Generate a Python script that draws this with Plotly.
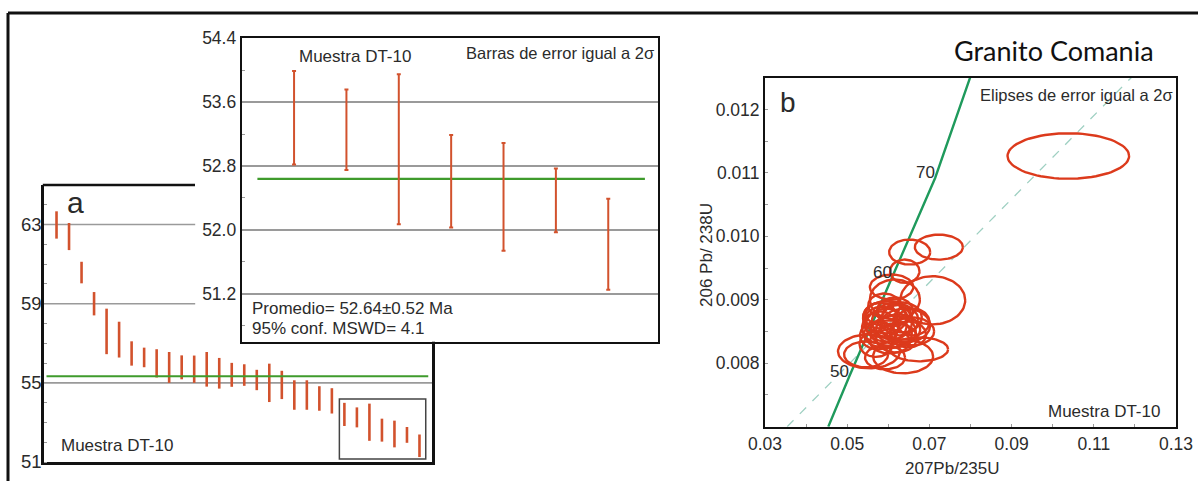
import numpy as np
import plotly.graph_objects as go

# ---------------- data ----------------
# Panel a: individual 206Pb/238U ages (Ma), limits of the 2-sigma bars, ordered from oldest to youngest
age_hi = [63.67, 63.08, 61.12, 59.59, 58.75, 58.09, 57.10, 56.78, 56.70, 56.56,
          56.39, 56.38, 56.56, 56.26, 56.01, 55.94, 55.66, 55.97, 55.61, 55.13,
          55.13, 54.83, 54.73, 53.99, 53.76, 53.95, 53.19, 53.09, 52.77, 52.39]
age_lo = [62.29, 61.71, 60.03, 58.41, 56.45, 56.28, 55.87, 55.79, 55.27, 55.00,
          55.18, 55.00, 54.81, 54.71, 54.80, 54.85, 54.63, 54.03, 54.18, 53.64,
          53.64, 53.59, 53.45, 52.82, 52.75, 52.07, 52.03, 51.74, 51.97, 51.25]
mean_all = 55.34          # green line, panel a
mean_young = 52.64        # weighted mean of the young group (inset)
mean_young_err = 0.52
mswd_young = 4.1
n_young = 7               # last 7 analyses shown in the inset

a_ticks = [51, 55, 59, 63]
a_grid = [63, 59]
inset_ticks = [51.2, 52.0, 52.8, 53.6, 54.4]
inset_minor = [50.8, 51.6, 52.4, 53.2, 54.0]

# Panel b: concordia diagram, 2-sigma error ellipses (centre and semi-axes)
ell_x = [0.0723, 0.0652, 0.0640, 0.0608, 0.0708, 0.0616,
         0.0592, 0.0609, 0.0624, 0.0580, 0.0599, 0.0633, 0.0616, 0.0575, 0.0648,
         0.0604, 0.0590, 0.0641, 0.0658, 0.0585, 0.0620, 0.0570, 0.0660, 0.0600,
         0.0595, 0.0612, 0.0580, 0.0628,
         0.0546, 0.0553, 0.0636, 0.0675, 0.0592,
         0.1038]
ell_y = [0.009830, 0.009752, 0.009450, 0.009201, 0.008992, 0.009005,
         0.008722, 0.008659, 0.008533, 0.008564, 0.008454, 0.008722, 0.008816, 0.008439, 0.008454,
         0.008344, 0.008910, 0.008596, 0.008502, 0.008650, 0.008400, 0.008300, 0.008650, 0.008780,
         0.008600, 0.008500, 0.008750, 0.008680,
         0.008140, 0.008187, 0.008108, 0.008219, 0.008093,
         0.011266]
ell_rx = [0.00584, 0.00499, 0.00358, 0.00528, 0.00791, 0.00608,
          0.00535, 0.00487, 0.00535, 0.00438, 0.00584, 0.00487, 0.00438, 0.00438, 0.00438,
          0.00487, 0.00389, 0.00608, 0.00535, 0.00450, 0.00500, 0.00400, 0.00400, 0.00550,
          0.00500, 0.00550, 0.00400, 0.00450,
          0.00535, 0.00754, 0.00730, 0.00706, 0.00487,
          0.01479]
ell_ry = [0.000197, 0.000197, 0.000184, 0.000197, 0.000380, 0.000314,
          0.000252, 0.000283, 0.000236, 0.000252, 0.000220, 0.000236, 0.000220, 0.000220, 0.000204,
          0.000189, 0.000189, 0.000267, 0.000220, 0.000240, 0.000230, 0.000200, 0.000210, 0.000200,
          0.000260, 0.000250, 0.000200, 0.000240,
          0.000204, 0.000267, 0.000267, 0.000189, 0.000189,
          0.000358]

conc_x = [0.0454, 0.0505, 0.0609, 0.0714, 0.0799]
conc_y = [0.00700, 0.00779, 0.00935, 0.01092, 0.01250]
conc_age = [None, 50, 60, 70, None]

dash_x = [0.0354, 0.1191]
dash_y = [0.0070, 0.0125]

b_xticks = [0.03, 0.05, 0.07, 0.09, 0.11, 0.13]
b_xminor = [0.04, 0.06, 0.08, 0.10, 0.12]
b_yticks = [0.008, 0.009, 0.010, 0.011, 0.012]
b_yminor = [0.0075, 0.0085, 0.0095, 0.0105, 0.0115]

# ---------------- styling ----------------
W, H = 1198, 481
FONT = "Liberation Sans, Arial, sans-serif"
TXT = "#2b2b2b"
BAR = "#d2522d"
ELL = "#dc3a1c"
GREEN = "#3f9b2c"
CONC = "#1f9a5c"
GRID = "#9a9a9a"


def px(x):
    return x / W


def py(y):
    return 1 - y / H


fig = go.Figure()

# ---- panel a ----
n = len(age_hi)
idx = list(range(1, n + 1))
mid = [(h + l) / 2 for h, l in zip(age_hi, age_lo)]
fig.add_trace(go.Scatter(
    x=idx, y=mid, mode="markers", marker=dict(size=0.1, color=BAR, opacity=0),
    error_y=dict(type="data", symmetric=False,
                 array=[h - m for h, m in zip(age_hi, mid)],
                 arrayminus=[m - l for m, l in zip(mid, age_lo)],
                 color=BAR, thickness=2.6, width=0),
    xaxis="x", yaxis="y", hoverinfo="skip"))
fig.add_trace(go.Scatter(x=[0.2, 30.7], y=[mean_all, mean_all], mode="lines",
                         line=dict(color=GREEN, width=2), xaxis="x", yaxis="y"))

# ---- inset ----
young_hi = age_hi[-n_young:]
young_lo = age_lo[-n_young:]
yidx = list(range(1, n_young + 1))
ymid = [(h + l) / 2 for h, l in zip(young_hi, young_lo)]
fig.add_trace(go.Scatter(x=[0.3, 7.7], y=[mean_young, mean_young], mode="lines",
                         line=dict(color=GREEN, width=2.2), xaxis="x2", yaxis="y2"))
fig.add_trace(go.Scatter(
    x=yidx, y=ymid, mode="markers", marker=dict(size=0.1, color=BAR, opacity=0),
    error_y=dict(type="data", symmetric=False,
                 array=[h - m for h, m in zip(young_hi, ymid)],
                 arrayminus=[m - l for m, l in zip(ymid, young_lo)],
                 color=BAR, thickness=2, width=2),
    xaxis="x2", yaxis="y2", hoverinfo="skip"))

# ---- panel b ----
fig.add_trace(go.Scatter(x=dash_x, y=dash_y, mode="lines",
                         line=dict(color="#9fd0c2", width=1.3, dash="dash"),
                         xaxis="x3", yaxis="y3"))
fig.add_trace(go.Scatter(x=conc_x, y=conc_y, mode="lines",
                         line=dict(color=CONC, width=2.4), xaxis="x3", yaxis="y3"))
t = np.linspace(0, 2 * np.pi, 81)
ex, ey = [], []
for cx, cy, rx, ry in zip(ell_x, ell_y, ell_rx, ell_ry):
    ex += list(cx + rx * np.cos(t)) + [None]
    ey += list(cy + ry * np.sin(t)) + [None]
fig.add_trace(go.Scatter(x=ex, y=ey, mode="lines", line=dict(color=ELL, width=2.4),
                         xaxis="x3", yaxis="y3"))

tickfont = dict(family=FONT, size=17.5, color=TXT)
tickfont_a = dict(family=FONT, size=18.5, color=TXT)

fig.update_layout(
    template="none",
    width=W, height=H, margin=dict(l=0, r=0, t=0, b=0, pad=0, autoexpand=False),
    paper_bgcolor="white", plot_bgcolor="white", showlegend=False,
    font=dict(family=FONT, color=TXT),
    xaxis=dict(domain=[px(44), px(432)], range=[0, 31], showticklabels=False,
               showgrid=False, zeroline=False, showline=True, linecolor="#111",
               linewidth=2.5, mirror=False, ticks="", automargin=False),
    yaxis=dict(domain=[py(462), py(185)], range=[51, 65], tickvals=a_ticks,
               showgrid=False, zeroline=False, showline=True, linecolor="#111",
               linewidth=2.5, mirror=True, ticks="", tickfont=tickfont_a, automargin=False,
               ticklabelstandoff=-4,
               minor=dict(ticks="inside", ticklen=3, dtick=1, tickcolor="#999")),
    xaxis2=dict(domain=[px(241.7), px(658)], range=[0, 7.95], showticklabels=False,
                showgrid=False, zeroline=False, showline=True, linecolor="#111",
                linewidth=2, mirror=True, ticks="", anchor="y2", automargin=False),
    yaxis2=dict(domain=[py(341.7), py(38.3)], range=[50.6, 54.4], tickvals=inset_ticks,
                ticktext=["%.1f" % v for v in inset_ticks],
                showgrid=True, gridcolor=GRID, gridwidth=1.6, zeroline=False,
                showline=True, linecolor="#111", linewidth=2, mirror=True, ticks="",
                tickfont=tickfont, anchor="x2", automargin=False,
                minor=dict(ticks="inside", ticklen=3, tickvals=inset_minor, tickcolor="#999",
                           showgrid=False)),
    xaxis3=dict(domain=[px(765), px(1176)], range=[0.03, 0.13], tickvals=b_xticks,
                ticktext=["%.2f" % v for v in b_xticks],
                showgrid=False, zeroline=False, showline=True, linecolor="#111",
                linewidth=2, mirror=True, ticks="inside", ticklen=3, tickcolor="#999",
                tickfont=tickfont, anchor="y3", automargin=False,
                minor=dict(ticks="inside", ticklen=3, tickvals=b_xminor, tickcolor="#999")),
    yaxis3=dict(domain=[py(426.7), py(77.7)], range=[0.007, 0.0125], tickvals=b_yticks,
                ticktext=["%.3f" % v for v in b_yticks],
                showgrid=False, zeroline=False, showline=True, linecolor="#111",
                linewidth=2, mirror=True, ticks="inside", ticklen=3, tickcolor="#999",
                tickfont=tickfont, anchor="x3", automargin=False,
                minor=dict(ticks="inside", ticklen=3, tickvals=b_yminor, tickcolor="#999")),
)

shapes = []
# outer frame (top and left edges)
shapes.append(dict(type="line", xref="paper", yref="paper", x0=px(8), x1=1, y0=py(13), y1=py(13),
                   line=dict(color="#111", width=3)))
shapes.append(dict(type="line", xref="paper", yref="paper", x0=px(8), x1=px(8), y0=0, y1=py(13),
                   line=dict(color="#111", width=3)))
# panel a top edge (visible part, left of the inset)
shapes.append(dict(type="line", xref="paper", yref="paper", x0=px(42.8), x1=px(195), y0=py(185),
                   y1=py(185), line=dict(color="#111", width=2.5)))
# panel a grid lines
for g in a_grid:
    shapes.append(dict(type="line", xref="x", yref="y", x0=0, x1=12.08, y0=g, y1=g,
                       line=dict(color=GRID, width=1.6), layer="below"))
shapes.append(dict(type="line", xref="x", yref="y", x0=0, x1=31, y0=55, y1=55,
                   line=dict(color=GRID, width=1.6), layer="below"))
# box marking the young group
shapes.append(dict(type="rect", xref="x", yref="y", x0=23.6, x1=30.5, y0=51.15, y1=54.18,
                   line=dict(color="#444", width=1.5)))

annotations = []


def ann(text, x, y, size=17, xanchor="left", yanchor="middle", font=FONT, color=TXT, **kw):
    annotations.append(dict(text=text, x=px(x), y=py(y), xref="paper", yref="paper",
                            xanchor=xanchor, yanchor=yanchor, showarrow=False,
                            font=dict(family=font, size=size, color=color), **kw))


ann("a", 75, 202, size=30, xanchor="center")
ann("Muestra DT-10", 59, 445)
ann("Muestra DT-10", 297, 57)
ann("Barras de error igual a 2σ", 656, 53, size=16.5, xanchor="right")
ann("Promedio= %.2f±%.2f Ma" % (mean_young, mean_young_err), 250, 308)
ann("95% conf. MSWD= " + str(mswd_young), 250, 328)
ann("Granito Comania", 952, 50, size=27, font="Lato, Carlito, sans-serif", color="#111")
ann("b", 788, 102, size=28, xanchor="center")
ann("Elipses de error igual a 2σ", 1175, 95, size=16.5, xanchor="right")
ann("Muestra DT-10", 1162, 411, xanchor="right")
ann("207Pb/235U", 952, 468, xanchor="center")
ann("206 Pb/ 238U", 706, 255, xanchor="center", textangle=-90)

for cx, cy, a in zip(conc_x, conc_y, conc_age):
    if a is None:
        continue
    annotations.append(dict(text=str(a), x=cx, y=cy, xref="x3", yref="y3", xanchor="right",
                            yanchor="middle", xshift=2, yshift=5, showarrow=False,
                            font=dict(family=FONT, size=17, color=TXT)))

fig.update_layout(shapes=shapes, annotations=annotations)

fig.write_html("out.html", config={"displayModeBar": False},
               post_script="document.body.style.margin='0';document.body.style.overflow='hidden';")
